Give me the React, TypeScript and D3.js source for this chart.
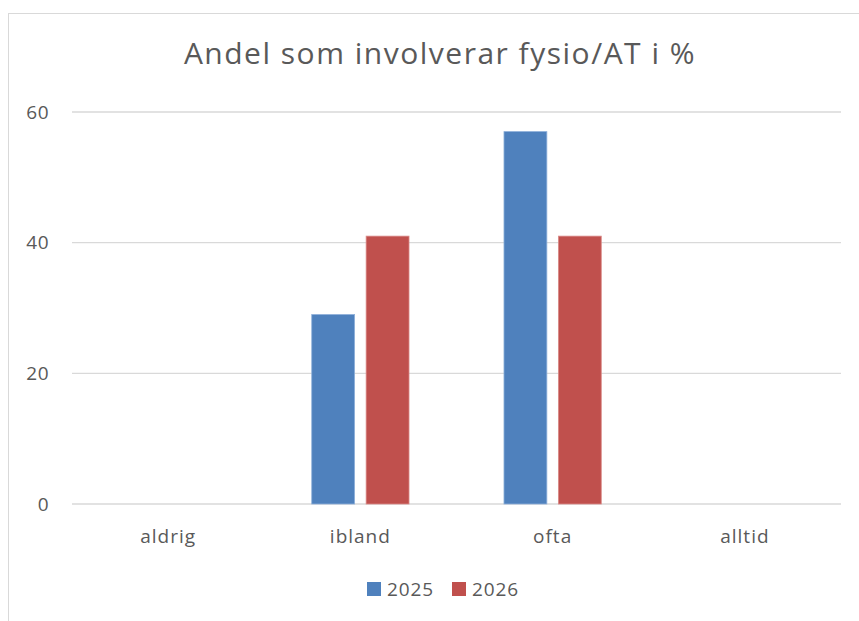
import { useEffect, useRef } from "react";
import { select, scaleBand, scaleLinear } from "d3";

const categories = ["aldrig", "ibland", "ofta", "alltid"];
const seriesNames = ["2025", "2026"];
const values2025 = [0, 29, 57, 0];
const values2026 = [0, 41, 41, 0];
const yTicks = [0, 20, 40, 60];
const colors = ["#4F81BD", "#C0504D"];
const strokes = ["#8EB0DA", "#DA8A88"];

const W = 859;
const H = 621;
const FONT = "'Open Sans', Lato, sans-serif";

export default function App() {
  const svgRef = useRef<SVGSVGElement | null>(null);

  useEffect(() => {
    if (!svgRef.current) return;
    const svg = select(svgRef.current);
    svg.selectAll("*").remove();

    const left = 72;
    const right = 841;
    const top = 112;
    const bottom = 504;

    const x = scaleBand<string>().domain(categories).range([left, right]);
    const y = scaleLinear().domain([0, 60]).range([bottom, top]);

    // chart frame (runs off the page to the right and bottom)
    svg
      .append("rect")
      .attr("x", 8.5)
      .attr("y", 13.5)
      .attr("width", W + 20)
      .attr("height", H + 20)
      .attr("fill", "white")
      .attr("stroke", "#d9d9d9")
      .attr("stroke-width", 1);

    svg
      .append("text")
      .attr("x", 440)
      .attr("y", 64)
      .attr("text-anchor", "middle")
      .attr("font-family", FONT)
      .attr("font-size", 30)
      .attr("letter-spacing", 1.5)
      .attr("fill", "#595959")
      .text("Andel som involverar fysio/AT i %");

    const grid = svg.append("g");
    grid
      .selectAll("line")
      .data(yTicks)
      .enter()
      .append("line")
      .attr("x1", left)
      .attr("x2", right)
      .attr("y1", (d) => y(d))
      .attr("y2", (d) => y(d))
      .attr("stroke", "#d9d9d9")
      .attr("stroke-width", 1.3);

    svg
      .append("g")
      .selectAll("text")
      .data(yTicks)
      .enter()
      .append("text")
      .attr("x", 49)
      .attr("y", (d) => y(d))
      .attr("dy", "0.35em")
      .attr("text-anchor", "end")
      .attr("font-family", FONT)
      .attr("font-size", 19)
      .attr("letter-spacing", 0.5)
      .attr("fill", "#595959")
      .text((d) => String(d));

    const bw = x.bandwidth();
    const barW = bw * 0.223;
    const gap = bw * 0.06;
    const series = [values2025, values2026];

    series.forEach((vals, si) => {
      svg
        .append("g")
        .selectAll("rect")
        .data(categories.map((c, i) => ({ c, v: vals[i] })))
        .enter()
        .filter((d) => d.v > 0)
        .append("rect")
        .attr("x", (d) => (x(d.c) ?? 0) + bw / 2 - gap / 2 - barW + si * (barW + gap))
        .attr("y", (d) => y(d.v))
        .attr("width", barW)
        .attr("height", (d) => y(0) - y(d.v))
        .attr("fill", colors[si])
        .attr("stroke", strokes[si])
        .attr("stroke-width", 0.8);
    });

    svg
      .append("g")
      .selectAll("text")
      .data(categories)
      .enter()
      .append("text")
      .attr("x", (d) => (x(d) ?? 0) + bw / 2)
      .attr("y", 543)
      .attr("text-anchor", "middle")
      .attr("font-family", FONT)
      .attr("font-size", 19)
      .attr("letter-spacing", 1)
      .attr("fill", "#595959")
      .text((d) => d);

    const legend = svg.append("g");
    const legendX = [367, 452];
    seriesNames.forEach((name, i) => {
      legend
        .append("rect")
        .attr("x", legendX[i])
        .attr("y", 582)
        .attr("width", 14)
        .attr("height", 14)
        .attr("fill", colors[i]);
      legend
        .append("text")
        .attr("x", legendX[i] + 20)
        .attr("y", 596)
        .attr("font-family", FONT)
        .attr("font-size", 19)
        .attr("letter-spacing", 0.9)
        .attr("fill", "#595959")
        .text(name);
    });
  }, []);

  return (
    <svg
      ref={svgRef}
      width={W}
      height={H}
      style={{ position: "absolute", left: 0, top: 0 }}
    />
  );
}
